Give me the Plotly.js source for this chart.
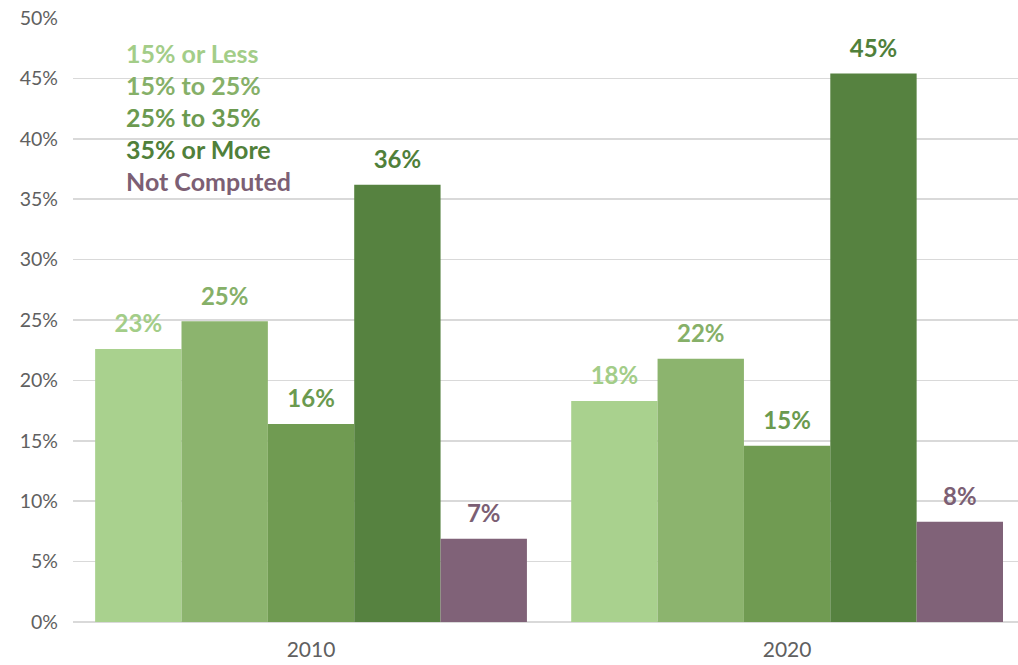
<!DOCTYPE html>
<html>
<head>
<meta charset="utf-8">
<script src="https://cdn.plot.ly/plotly-3.0.1.min.js"></script>
<style>html,body{margin:0;padding:0;background:#fff;}#chart{width:1018px;height:665px;}</style>
</head>
<body>
<div id="chart"></div>
<script>
const years = ['2010', '2020'];
const seriesNames = ['15% or Less', '15% to 25%', '25% to 35%', '35% or More', 'Not Computed'];
const lessThan15 = [22.6, 18.3];
const from15to25 = [24.9, 21.8];
const from25to35 = [16.4, 14.6];
const over35 = [36.2, 45.4];
const notComputed = [6.9, 8.3];
const yTickVals = [0, 5, 10, 15, 20, 25, 30, 35, 40, 45, 50];
const yTickText = ['0%', '5%', '10%', '15%', '20%', '25%', '30%', '35%', '40%', '45%', '50%'];

const barColors = ['#a9d18e', '#8cb46e', '#709b52', '#568240', '#806278'];
const textColors = ['#a3cd88', '#86b068', '#6b9a4f', '#50803a', '#7c5f74'];
const seriesValues = [lessThan15, from15to25, from25to35, over35, notComputed];

const font = 'Lato, "Open Sans", sans-serif';

const traces = seriesValues.map((vals, i) => ({
  type: 'bar',
  name: seriesNames[i],
  x: years,
  y: vals,
  marker: {color: barColors[i], line: {width: 0}},
  texttemplate: '<span style="font-size:24px;font-weight:bold">%{y:.0f}%</span><br><span style="font-size:9px"> </span>',
  textposition: 'outside',
  constraintext: 'none',
  cliponaxis: false,
  textfont: {family: font, size: 9, color: textColors[i]},
  hoverinfo: 'none'
}));

const legendY = [0.942, 0.889, 0.836, 0.783, 0.730];
const annotations = seriesNames.map((n, i) => ({
  xref: 'paper', yref: 'paper',
  x: 0.054, y: legendY[i],
  xanchor: 'left', yanchor: 'middle',
  text: n, showarrow: false,
  font: {family: font, size: 25, color: textColors[i], weight: 'bold'}
}));

const layout = {
  width: 1018, height: 665,
  margin: {l: 73, r: 0, t: 18, b: 43},
  paper_bgcolor: '#ffffff', plot_bgcolor: '#ffffff',
  barmode: 'group', bargap: 0.093, bargroupgap: 0,
  showlegend: false,
  xaxis: {
    type: 'category', range: [-0.5, 1.485],
    showgrid: false, zeroline: false, showline: false, ticks: '',
    ticklabelstandoff: 13,
    tickfont: {family: font, size: 21, color: '#606060'}
  },
  yaxis: {
    range: [0, 50], tickvals: yTickVals, ticktext: yTickText,
    showgrid: true, gridcolor: '#d9d9d9', gridwidth: 1.5,
    zeroline: true, zerolinecolor: '#d9d9d9', zerolinewidth: 1.5,
    showline: false, ticks: '', ticklabelstandoff: 14,
    tickfont: {family: font, size: 19.5, color: '#606060'}
  },
  shapes: [{
    type: 'rect', xref: 'paper', yref: 'paper', layer: 'below',
    x0: 0.037, x1: 0.255, y0: 0.69, y1: 0.985,
    fillcolor: '#ffffff', line: {width: 0}
  }],
  annotations: annotations
};

Plotly.newPlot('chart', traces, layout, {displayModeBar: false, staticPlot: true});
</script>
</body>
</html>
